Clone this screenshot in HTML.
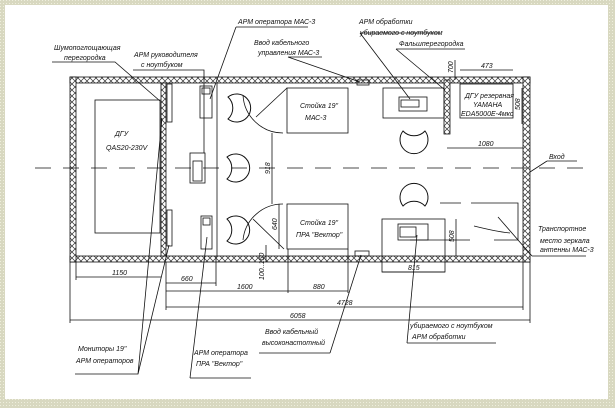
<!DOCTYPE html>
<html><head><meta charset="utf-8"><style>
html,body{margin:0;padding:0;background:#fff}
svg{display:block}
text{font-family:"Liberation Sans","DejaVu Sans",sans-serif;font-style:italic;font-size:7px;fill:#111}
.d{font-size:6px}
</style></head><body>
<svg width="615" height="408" viewBox="0 0 615 408" xmlns="http://www.w3.org/2000/svg">
<defs>
<pattern id="hx" width="6" height="6" patternUnits="userSpaceOnUse">
<rect width="6" height="6" fill="#fff"/>
<path d="M0,0L6,6M6,0L0,6" stroke="#333" stroke-width="0.7"/>
</pattern>
<pattern id="bg" width="3" height="3" patternUnits="userSpaceOnUse">
<rect width="3" height="3" fill="#d8d8c0"/><rect width="1" height="1" fill="#eeeedd"/>
</pattern>
</defs>
<rect width="615" height="408" fill="url(#bg)"/>
<rect x="5" y="5" width="603" height="394" fill="#fff"/>
<g stroke="#111" stroke-width="0.8" fill="none">
<rect x="70" y="77" width="460" height="6" fill="url(#hx)"/>
<rect x="70" y="256" width="460" height="6" fill="url(#hx)"/>
<rect x="70" y="77" width="6" height="185" fill="url(#hx)"/>
<rect x="523" y="77" width="7" height="185" fill="url(#hx)"/>
<rect x="161" y="83" width="5" height="173" fill="url(#hx)"/>
<rect x="444" y="80" width="6" height="54" fill="url(#hx)"/>
<rect x="167" y="84" width="5" height="38"/>
<rect x="167" y="210" width="5" height="36"/>
<rect x="95" y="100" width="65" height="133"/>
<line x1="217" y1="83" x2="217" y2="256"/>
<rect x="200" y="86" width="12" height="32"/><rect x="202" y="88" width="8" height="6"/>
<rect x="190" y="153" width="15" height="30"/><rect x="193" y="161" width="9" height="20"/>
<rect x="201" y="216" width="11" height="33"/><rect x="203" y="218" width="7" height="7"/>
<!-- chairs -->
<path d="M228,97 A14,14 0 1,1 228,119 A15,15 0 0,0 228,97z" stroke-width="1"/>
<path d="M227,157 A14,14 0 1,1 227,179 A15,15 0 0,0 227,157z" stroke-width="1"/>
<path d="M227,219 A14,14 0 1,1 227,241 A15,15 0 0,0 227,219z" stroke-width="1"/>
<path d="M403,131 A14,14 0 1,0 425,131 A15,15 0 0,1 403,131z" stroke-width="1"/>
<path d="M403,206 A14,14 0 1,1 425,206 A15,15 0 0,0 403,206z" stroke-width="1"/>
<rect x="287" y="88" width="61" height="45"/>
<rect x="287" y="204" width="61" height="45"/>
<path d="M243,95 A40,40 0 0,0 283,133"/>
<path d="M243,240 A40,40 0 0,1 283,204"/>
<line x1="256" y1="117" x2="287" y2="88"/>
<line x1="253" y1="219" x2="284" y2="249"/>
<rect x="383" y="88" width="61" height="30"/>
<rect x="399" y="97" width="28" height="14"/><rect x="401" y="100" width="18" height="7"/>
<rect x="382" y="219" width="63" height="53"/>
<rect x="398" y="224" width="30" height="16"/><rect x="400" y="227" width="16" height="10"/>
<rect x="460" y="84" width="53" height="34"/>
<rect x="357" y="80" width="12" height="5"/><rect x="355" y="251" width="14" height="5"/>
<path d="M440,203 H461 M471,203 H518 V240 H494 M474,226 C490,230 500,232 510,233 M410,240 H470"/>
<line x1="35" y1="168" x2="590" y2="168" stroke-dasharray="16,12"/>
<line x1="76" y1="277" x2="161" y2="277"/><line x1="76" y1="262" x2="76" y2="280"/>
<line x1="166" y1="283" x2="216" y2="283"/><line x1="216" y1="256" x2="216" y2="286"/>
<line x1="166" y1="262" x2="166" y2="310"/>
<line x1="166" y1="291" x2="288" y2="291"/><line x1="288" y1="249" x2="288" y2="293"/>
<line x1="288" y1="291" x2="348" y2="291"/><line x1="348" y1="249" x2="348" y2="293"/>
<line x1="166" y1="307" x2="523" y2="307"/><line x1="523" y1="262" x2="523" y2="310"/>
<line x1="70" y1="320" x2="530" y2="320"/><line x1="70" y1="262" x2="70" y2="323"/><line x1="530" y1="262" x2="530" y2="323"/>
<line x1="272" y1="133" x2="272" y2="204"/>
<line x1="279" y1="204" x2="279" y2="249"/>
<line x1="266" y1="245" x2="266" y2="262"/>
<line x1="382" y1="272" x2="445" y2="272"/>
<line x1="456" y1="219" x2="456" y2="256"/>
<line x1="460" y1="70" x2="513" y2="70"/><line x1="455" y1="60" x2="455" y2="80"/>
<line x1="522" y1="88" x2="522" y2="124"/>
<line x1="447" y1="148" x2="523" y2="148"/>
<path d="M52,62 H115 L160,101"/>
<path d="M133,70 H204 V153"/>
<path d="M236,27 H308 M236,27 L210,99"/>
<path d="M288,57 H322 M288,57 L360,82"/>
<path d="M360,33 H440 M360,33 L410,99"/>
<path d="M396,49 H465 M396,49 L445,90"/>
<path d="M547,161 H577 M547,161 L530,172"/>
<path d="M532,256 H586 M532,256 L498,217"/>
<path d="M75,374 H138 L169,245 M138,374 L162,118"/>
<path d="M190,378 H251 M190,378 L207,237"/>
<path d="M259,353 H330 M330,353 L361,255"/>
<path d="M407,343 H496 M407,343 L417,235"/>
</g>
<text x="115" y="136">ДГУ</text>
<text x="106" y="150">QAS20-230V</text>
<text x="54" y="50">Шумопоглощающая</text><text x="64" y="60">перегородка</text>
<text x="134" y="57">АРМ руководителя</text><text x="141" y="67">с ноутбуком</text>
<text x="238" y="24">АРМ оператора МАС-3</text>
<text x="254" y="45">Ввод кабельного</text><text x="258" y="55">управления МАС-3</text>
<text x="359" y="24">АРМ обработки</text><text x="360" y="35">убираемого с ноутбуком</text>
<text x="399" y="46">Фальшперегородка</text>
<text x="465" y="98">ДГУ резервная</text><text x="473" y="107">YAMAHA</text><text x="461" y="116">EDA5000E-4мкс</text>
<text x="300" y="108">Стойка 19"</text><text x="305" y="120">МАС-3</text>
<text x="300" y="225">Стойка 19"</text><text x="296" y="237">ПРА "Вектор"</text>
<text x="549" y="159">Вход</text>
<text x="538" y="231">Транспортное</text><text x="540" y="243">место зеркала</text><text x="540" y="252">антенны МАС-3</text>
<text x="78" y="351">Мониторы 19"</text><text x="76" y="363">АРМ операторов</text>
<text x="194" y="355">АРМ оператора</text><text x="196" y="366">ПРА "Вектор"</text>
<text x="265" y="334">Ввод кабельный</text><text x="262" y="345">высоконастотный</text>
<text x="410" y="328">убираемого с ноутбуком</text><text x="412" y="339">АРМ обработки</text>
<g class="d"><text x="112" y="275">1150</text><text x="181" y="281">660</text><text x="237" y="289">1600</text><text x="313" y="289">880</text>
<text x="337" y="305">4728</text><text x="290" y="318">6058</text><text x="408" y="270">815</text>
<text x="481" y="68">473</text><text x="478" y="146">1080</text></g>
<g class="d">
<text transform="translate(270,174) rotate(-90)">918</text>
<text transform="translate(277,230) rotate(-90)">640</text>
<text transform="translate(264,280) rotate(-90)">100..150</text>
<text transform="translate(454,242) rotate(-90)">508</text>
<text transform="translate(520,110) rotate(-90)">508</text>
<text transform="translate(453,73) rotate(-90)">700</text>
</g>
</svg>
</body></html>
